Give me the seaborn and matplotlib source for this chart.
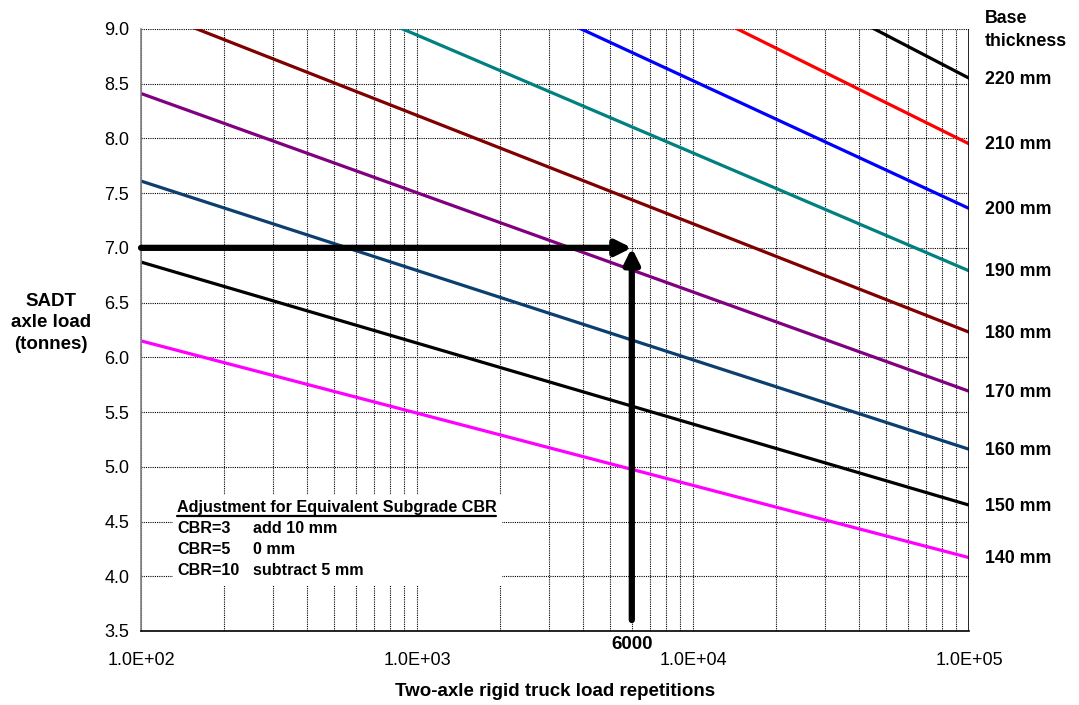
import numpy as np
import pandas as pd
import matplotlib
matplotlib.use("Agg")
import matplotlib.pyplot as plt
import matplotlib.ticker as mticker
import seaborn as sns

# Data: axle load at 1.0E+02 and 1.0E+05 repetitions
thickness = ["140 mm", "150 mm", "160 mm", "170 mm", "180 mm",
             "190 mm", "200 mm", "210 mm", "220 mm"]
load_at_1e2 = [6.15, 6.87, 7.61, 8.41, 9.20, 10.02, 10.86, 11.70, 12.48]
load_at_1e5 = [4.17, 4.65, 5.16, 5.69, 6.23, 6.79, 7.36, 7.95, 8.55]
line_colors = ["#FF00FF", "#000000", "#0B3F70", "#800080", "#800000",
               "#008080", "#0000FF", "#FF0000", "#000000"]
repetitions = [1e2, 1e5]

design_reps = 6000
design_load = 7.0

cbr_rows = [("CBR=3", "add 10 mm"), ("CBR=5", "0 mm"), ("CBR=10", "subtract 5 mm")]

rows = []
for t, a, b in zip(thickness, load_at_1e2, load_at_1e5):
    rows.append({"reps": repetitions[0], "load": a, "thickness": t})
    rows.append({"reps": repetitions[1], "load": b, "thickness": t})
df = pd.DataFrame(rows)

sns.set_style("white")
plt.rcParams["font.family"] = ["Liberation Sans", "DejaVu Sans"]
plt.rcParams.update({"text.color": "black", "axes.labelcolor": "black",
                     "xtick.color": "black", "ytick.color": "black"})

fig = plt.figure(figsize=(10.79, 7.05), dpi=100)
ax = fig.add_axes([0.1307, 0.105, 0.7674, 0.854])

sns.lineplot(data=df, x="reps", y="load", hue="thickness",
             palette=dict(zip(thickness, line_colors)), linewidth=2.3,
             legend=False, ax=ax)

ax.set_xscale("log")
ax.set_xlim(1e2, 1e5)
ax.set_ylim(3.5, 9.0)
ax.set_yticks(np.arange(3.5, 9.01, 0.5))
ax.yaxis.set_major_formatter(mticker.FormatStrFormatter("%.1f"))
ax.xaxis.set_major_locator(mticker.LogLocator(base=10, numticks=10))
ax.xaxis.set_minor_locator(mticker.LogLocator(base=10, subs=np.arange(2, 10), numticks=20))
ax.xaxis.set_major_formatter(mticker.FuncFormatter(
    lambda v, p: "1.0E+%02d" % int(round(np.log10(v)))))
ax.xaxis.set_minor_formatter(mticker.NullFormatter())

ax.grid(True, which="major", axis="both", color="black", linestyle=(0, (1, 1)), linewidth=0.8)
ax.grid(True, which="minor", axis="x", color="black", linestyle=(0, (1, 1)), linewidth=0.8)
ax.set_axisbelow(True)

for side in ["top", "right"]:
    ax.spines[side].set_visible(False)
ax.spines["left"].set_color("#808080")
ax.spines["bottom"].set_color("black")
ax.spines["left"].set_linewidth(1.2)
ax.spines["bottom"].set_linewidth(1.2)
ax.axvline(1e5, color="black", linewidth=1.2, zorder=3)

ax.tick_params(axis="y", which="major", direction="out", length=5, labelsize=13,
               color="black", labelcolor="black")
ax.tick_params(axis="x", which="major", direction="out", length=5, labelsize=13, pad=10,
               color="black", labelcolor="black")
ax.tick_params(axis="x", which="minor", length=0)

ax.set_xlabel("Two-axle rigid truck load repetitions", fontsize=13.5, fontweight="bold",
              va="center", color="black")
ax.xaxis.set_label_coords(0.5, -0.101)
ax.set_ylabel("SADT\naxle load\n(tonnes)", fontsize=13.5, fontweight="bold",
              rotation=0, ha="center", va="center", linespacing=1.35, color="black")
ax.yaxis.set_label_coords(-0.109, 0.512)

# design arrows
ax.annotate("", xy=(design_reps, design_load), xytext=(1e2, design_load),
            arrowprops=dict(arrowstyle="-|>,head_length=0.9,head_width=0.45",
                            color="black", lw=4.5, shrinkA=0, shrinkB=0), zorder=5)
ax.annotate("", xy=(design_reps, design_load), xytext=(design_reps, 3.6),
            arrowprops=dict(arrowstyle="-|>,head_length=0.9,head_width=0.45",
                            color="black", lw=4.5, shrinkA=0, shrinkB=0), zorder=5)
ax.text(design_reps, 3.45, str(design_reps), ha="center", va="top",
        fontsize=13.5, fontweight="bold", clip_on=False, color="black")

# thickness labels on the right
for t, v in zip(thickness, load_at_1e5):
    ax.text(1.14e5, v - 0.01, t, ha="left", va="center", fontsize=12.8,
            fontweight="bold", clip_on=False, color="black")
ax.text(1.14e5, 8.99, "Base\nthickness", ha="left", va="center", fontsize=12.8,
        fontweight="bold", clip_on=False, linespacing=1.4, color="black")

# CBR adjustment box
ax.add_patch(plt.Rectangle((0.0386, 0.075), 0.397, 0.151, transform=ax.transAxes,
                           facecolor="white", edgecolor="none", zorder=2))
ax.text(135, 4.63, "Adjustment for Equivalent Subgrade CBR", fontsize=11.6,
        fontweight="bold", va="center", ha="left", zorder=4, color="black")
ax.plot([135, 1932], [4.553, 4.553], color="black", linewidth=1.6, zorder=4)
for i, (c, a) in enumerate(cbr_rows):
    yy = 4.44 - i * 0.195
    ax.text(135, yy, c, fontsize=11.6, fontweight="bold", va="center", ha="left",
            zorder=4, color="black")
    ax.text(254, yy, a, fontsize=11.6, fontweight="bold", va="center", ha="left",
            zorder=4, color="black")

fig.savefig("out.png", dpi=100)
